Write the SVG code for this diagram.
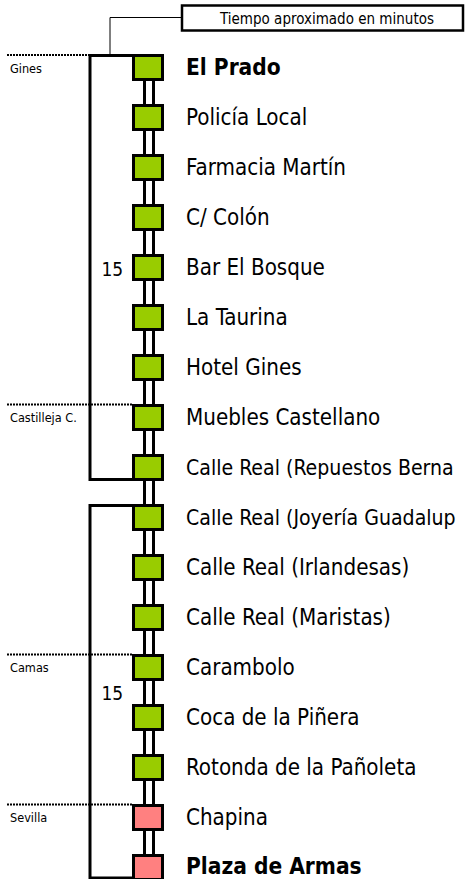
<svg xmlns="http://www.w3.org/2000/svg" width="465" height="879" viewBox="0 0 465 879">
<style>
  .bg { fill: #ffffff; }
  .stn { font-family: "DejaVu Sans Condensed", "DejaVu Sans", sans-serif; font-stretch: condensed; font-size: 22.2px; fill: #000; }
  .long { font-size: 21.1px; }
  .bold { font-weight: bold; font-size: 22.5px; }
  .reg { font-family: "DejaVu Sans Condensed", "DejaVu Sans", sans-serif; font-stretch: condensed; font-size: 12.6px; fill: #000; }
  .num { font-family: "DejaVu Sans Condensed", "DejaVu Sans", sans-serif; font-stretch: condensed; font-size: 19px; fill: #000; }
  .hdr { font-family: "DejaVu Sans Condensed", "DejaVu Sans", sans-serif; font-stretch: condensed; font-size: 15px; fill: #000; }
  .sq { stroke: #000; stroke-width: 3; }
  .g { fill: #99cc00; }
  .p { fill: #ff8080; }
  .link { fill: #ffffff; stroke: #000; stroke-width: 3; }
  .brk { fill: none; stroke: #000; stroke-width: 3; }
  .dot { fill: none; stroke: #000; stroke-width: 2; stroke-dasharray: 2 1; }
  .thin { fill: none; stroke: #000; stroke-width: 1; }
</style>
<rect class="bg" x="0" y="0" width="465" height="879"/>

<g id="regions">
  <line class="dot" x1="7" y1="55" x2="133" y2="55"/>
  <text class="reg" x="10" y="73">Gines</text>
  <line class="dot" x1="7" y1="404.5" x2="133" y2="404.5"/>
  <text class="reg" x="10" y="422">Castilleja C.</text>
  <line class="dot" x1="7" y1="654.5" x2="133" y2="654.5"/>
  <text class="reg" x="10" y="672">Camas</text>
  <line class="dot" x1="7" y1="804.5" x2="133" y2="804.5"/>
  <text class="reg" x="10" y="822">Sevilla</text>
</g>

<g id="brackets">
  <path class="brk" d="M133,55.5 H90 V479.5 H133"/>
  <path class="brk" d="M133,505.5 H90 V878 H133"/>
  <text class="num" x="101.5" y="276">15</text>
  <text class="num" x="101.5" y="700">15</text>
</g>

<g id="header">
  <path class="thin" d="M110,55 V17.5 H182"/>
  <rect x="182" y="5.5" width="281" height="25" fill="#ffffff" stroke="#000" stroke-width="2.5"/>
  <text class="hdr" x="327" y="23.5" text-anchor="middle">Tiempo aproximado en minutos</text>
</g>

<g id="connectors">
  <rect class="link" x="144.5" y="79" width="9" height="27"/>
  <rect class="link" x="144.5" y="129" width="9" height="27"/>
  <rect class="link" x="144.5" y="179" width="9" height="27"/>
  <rect class="link" x="144.5" y="229" width="9" height="27"/>
  <rect class="link" x="144.5" y="279" width="9" height="27"/>
  <rect class="link" x="144.5" y="329" width="9" height="27"/>
  <rect class="link" x="144.5" y="379" width="9" height="27"/>
  <rect class="link" x="144.5" y="429" width="9" height="27"/>
  <rect class="link" x="144.5" y="479" width="9" height="27"/>
  <rect class="link" x="144.5" y="529" width="9" height="27"/>
  <rect class="link" x="144.5" y="579" width="9" height="27"/>
  <rect class="link" x="144.5" y="629" width="9" height="27"/>
  <rect class="link" x="144.5" y="679" width="9" height="27"/>
  <rect class="link" x="144.5" y="729" width="9" height="27"/>
  <rect class="link" x="144.5" y="779" width="9" height="27"/>
  <rect class="link" x="144.5" y="829" width="9" height="27"/>
</g>

<g id="stop-el-prado"><rect class="sq g" x="133.5" y="55.5" width="29" height="24"/><text class="stn bold" x="186" y="74.5">El Prado</text></g>
<g id="stop-policia-local"><rect class="sq g" x="133.5" y="105.5" width="29" height="24"/><text class="stn" x="186" y="124.5">Policía Local</text></g>
<g id="stop-farmacia-martin"><rect class="sq g" x="133.5" y="155.5" width="29" height="24"/><text class="stn" x="186" y="174.5">Farmacia Martín</text></g>
<g id="stop-c-colon"><rect class="sq g" x="133.5" y="205.5" width="29" height="24"/><text class="stn" x="186" y="224.5">C/ Colón</text></g>
<g id="stop-bar-el-bosque"><rect class="sq g" x="133.5" y="255.5" width="29" height="24"/><text class="stn" x="186" y="274.5">Bar El Bosque</text></g>
<g id="stop-la-taurina"><rect class="sq g" x="133.5" y="305.5" width="29" height="24"/><text class="stn" x="186" y="324.5">La Taurina</text></g>
<g id="stop-hotel-gines"><rect class="sq g" x="133.5" y="355.5" width="29" height="24"/><text class="stn" x="186" y="374.5">Hotel Gines</text></g>
<g id="stop-muebles-castellano"><rect class="sq g" x="133.5" y="405.5" width="29" height="24"/><text class="stn" x="186" y="424.5">Muebles Castellano</text></g>
<g id="stop-calle-real-repuestos"><rect class="sq g" x="133.5" y="455.5" width="29" height="24"/><text class="stn long" x="186" y="474.5">Calle Real (Repuestos Berna</text></g>
<g id="stop-calle-real-joyeria"><rect class="sq g" x="133.5" y="505.5" width="29" height="24"/><text class="stn long" x="186" y="524.5">Calle Real (Joyería Guadalup</text></g>
<g id="stop-calle-real-irlandesas"><rect class="sq g" x="133.5" y="555.5" width="29" height="24"/><text class="stn" x="186" y="574.5">Calle Real (Irlandesas)</text></g>
<g id="stop-calle-real-maristas"><rect class="sq g" x="133.5" y="605.5" width="29" height="24"/><text class="stn" x="186" y="624.5">Calle Real (Maristas)</text></g>
<g id="stop-carambolo"><rect class="sq g" x="133.5" y="655.5" width="29" height="24"/><text class="stn" x="186" y="674.5">Carambolo</text></g>
<g id="stop-coca-de-la-pinera"><rect class="sq g" x="133.5" y="705.5" width="29" height="24"/><text class="stn" x="186" y="724.5">Coca de la Piñera</text></g>
<g id="stop-rotonda-panoleta"><rect class="sq g" x="133.5" y="755.5" width="29" height="24"/><text class="stn" x="186" y="774.5">Rotonda de la Pañoleta</text></g>
<g id="stop-chapina"><rect class="sq p" x="133.5" y="805.5" width="29" height="24"/><text class="stn" x="186" y="824.5">Chapina</text></g>
<g id="stop-plaza-de-armas"><rect class="sq p" x="133.5" y="855.5" width="29" height="24"/><text class="stn bold" x="186" y="874">Plaza de Armas</text></g>
</svg>
